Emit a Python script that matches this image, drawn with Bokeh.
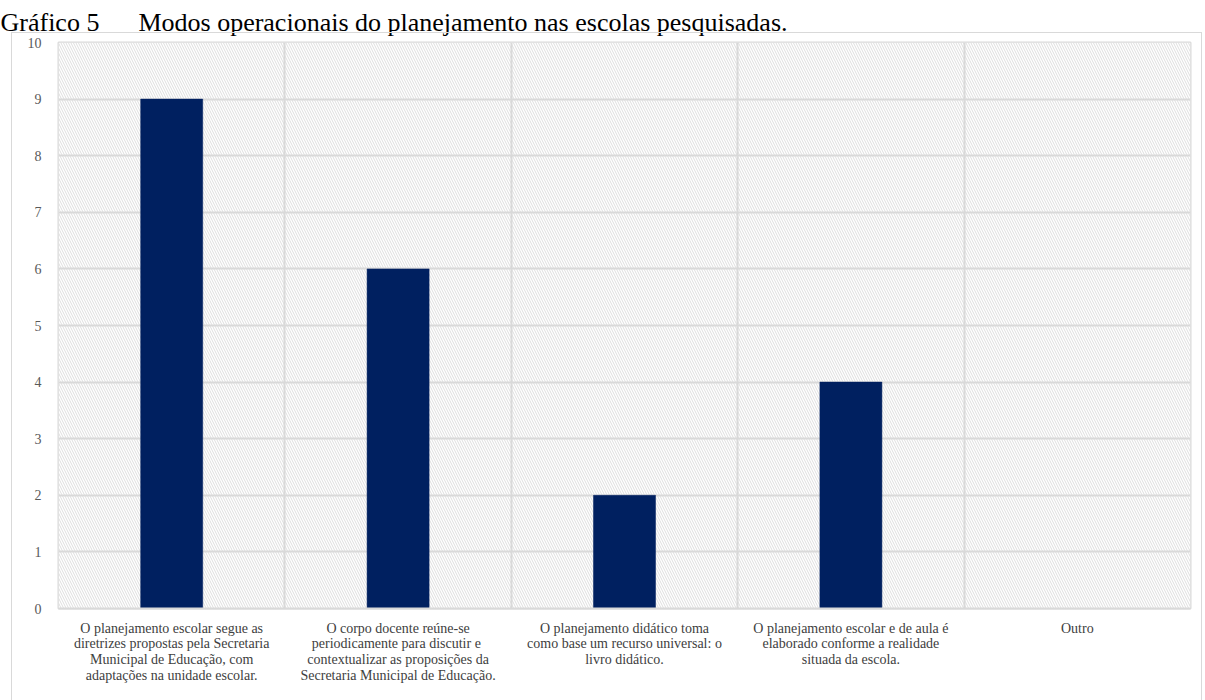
from bokeh.plotting import figure
from bokeh.models import FixedTicker, Title, InlineStyleSheet
from bokeh.embed import file_html
from bokeh.resources import INLINE

categories = [
    "O planejamento escolar segue as\ndiretrizes propostas pela Secretaria\nMunicipal de Educação, com\nadaptações na unidade escolar.",
    "O corpo docente reúne-se\nperiodicamente para  discutir e\ncontextualizar as proposições da\nSecretaria Municipal de Educação.",
    "O planejamento didático toma\ncomo base um recurso universal: o\nlivro didático.",
    "O planejamento escolar e de aula é\nelaborado conforme a realidade\nsituada da escola.",
    "Outro",
]
values = [9, 6, 2, 4, 0]
y_ticks = [0, 1, 2, 3, 4, 5, 6, 7, 8, 9, 10]
title_text = "Gráfico 5" + "\u00a0" * 6 + "Modos operacionais do planejamento nas escolas pesquisadas."

FONT = "Liberation Serif"
GRID = "#d9d9d9"

n = len(categories)
xs = [i + 0.5 for i in range(n)]

box_css = InlineStyleSheet(css="""
:host { position: relative; }
:host::after {
  content: ""; position: absolute; left: 11px; top: 32px; width: 1191px; height: 700px;
  border: 1.5px solid #d9d9d9; pointer-events: none; box-sizing: border-box;
}
""")

p = figure(width=1205, height=700, x_range=(0, n), y_range=(0, 10),
           output_backend="svg", toolbar_location=None,
           min_border_left=58, min_border_right=15, min_border_top=42, min_border_bottom=92,
           stylesheets=[box_css])
p.outline_line_color = GRID
p.outline_line_width = 2
p.background_fill_color = "white"

p.add_layout(Title(text=title_text, align="left", offset=-58, standoff=8,
                   vertical_align="top",
                   text_font=FONT, text_font_size="26px", text_font_style="normal",
                   text_color="black"), "above")

# hatched plot area
p.quad(left=[0], right=[n], bottom=[0], top=[10], fill_color="white", line_color=None,
       hatch_pattern="\\", hatch_color="#dedede", hatch_scale=5, hatch_weight=1, level="underlay")

p.vbar(x=xs, top=values, width=0.274, fill_color="#002060", line_color="#002060", line_width=0.5)

p.xgrid.ticker = FixedTicker(ticks=list(range(n + 1)))
p.xgrid.grid_line_color = GRID
p.xgrid.grid_line_width = 2
p.xgrid.level = "underlay"
p.ygrid.ticker = FixedTicker(ticks=y_ticks)
p.ygrid.grid_line_color = GRID
p.ygrid.grid_line_width = 2
p.ygrid.level = "underlay"

p.xaxis.ticker = FixedTicker(ticks=xs)
p.xaxis.major_label_overrides = {x: c for x, c in zip(xs, categories)}
p.xaxis.axis_line_color = GRID
p.xaxis.axis_line_width = 2
p.xaxis.major_tick_line_color = None
p.xaxis.minor_tick_line_color = None
p.xaxis.major_label_text_font = FONT
p.xaxis.major_label_text_font_size = "14px"
p.xaxis.major_label_text_color = "#404040"
p.xaxis.major_label_text_line_height = 1.05
p.xaxis.major_label_standoff = 6

p.yaxis.ticker = FixedTicker(ticks=y_ticks)
p.yaxis.axis_line_color = None
p.yaxis.major_tick_line_color = None
p.yaxis.minor_tick_line_color = None
p.yaxis.major_label_text_font = FONT
p.yaxis.major_label_text_font_size = "14px"
p.yaxis.major_label_text_color = "#595959"
p.yaxis.major_label_standoff = 11

open("out.html", "w").write(file_html(p, INLINE))
